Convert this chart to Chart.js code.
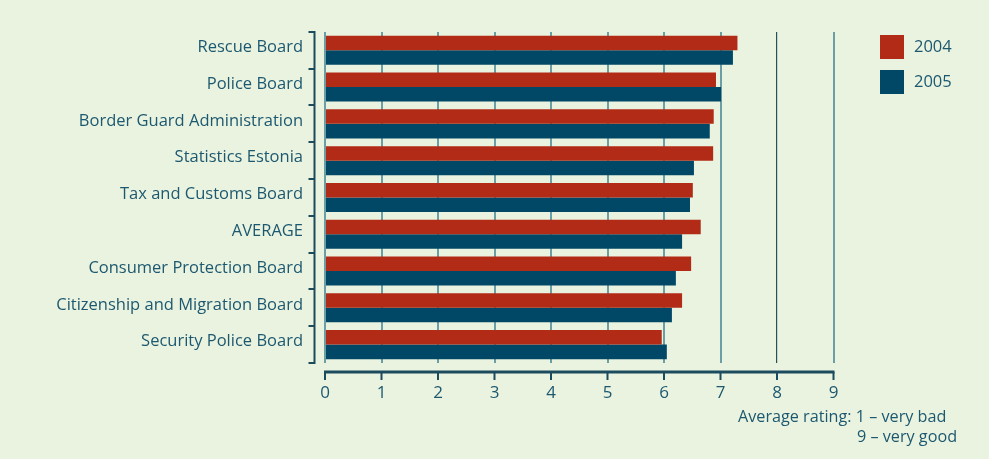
<!DOCTYPE html>
<html>
<head>
<meta charset="utf-8">
<script src="https://cdn.jsdelivr.net/npm/chart.js"></script>
<style>
  *{box-sizing:border-box;margin:0;padding:0}
  html,body{width:989px;height:459px;background:#eaf3df;overflow:hidden}
  .wrap{position:relative;width:989px;height:459px}
</style>
</head>
<body>
<div class="wrap"><canvas id="c" width="989" height="459"></canvas></div>
<script>
const CATEGORIES = [
  "Rescue Board", "Police Board", "Border Guard Administration", "Statistics Estonia",
  "Tax and Customs Board", "AVERAGE", "Consumer Protection Board",
  "Citizenship and Migration Board", "Security Police Board"
];
const VALUES_2004 = [7.30, 6.92, 6.88, 6.87, 6.51, 6.65, 6.48, 6.32, 5.96];
const VALUES_2005 = [7.22, 7.01, 6.81, 6.53, 6.46, 6.32, 6.21, 6.14, 6.05];
const X_TICKS = [0, 1, 2, 3, 4, 5, 6, 7, 8, 9];
const NOTE_LINES = ["Average rating: 1 – very bad", "9 – very good"];

const TEXT = "#1c5870";
const DARK = "#1d4b5e";
const FONT = "'Open Sans', sans-serif";

// bracket on the left, offset x axis line, legend and note
const decor = {
  id: "decor",
  afterDraw(chart) {
    const { ctx, chartArea: a, scales: { x } } = chart;
    ctx.save();
    ctx.strokeStyle = DARK;
    ctx.lineWidth = 2;
    // y bracket
    const bx = a.left - 10.5;
    ctx.beginPath();
    ctx.moveTo(bx, a.top); ctx.lineTo(bx, a.bottom);
    const step = (a.bottom - a.top) / CATEGORIES.length;
    for (let i = 0; i <= CATEGORIES.length; i++) {
      const y = Math.round(a.top + i * step);
      ctx.moveTo(bx + 1, y); ctx.lineTo(bx - 6, y);
    }
    ctx.stroke();
    // x axis line
    const ay = a.bottom + 9;
    ctx.lineWidth = 3;
    ctx.beginPath();
    ctx.moveTo(x.getPixelForValue(0) - 1, ay);
    ctx.lineTo(x.getPixelForValue(9) + 1, ay);
    ctx.stroke();
    ctx.lineWidth = 2;
    ctx.beginPath();
    X_TICKS.forEach(v => {
      const px = x.getPixelForValue(v);
      ctx.moveTo(px, ay); ctx.lineTo(px, ay + 8);
    });
    ctx.stroke();
    // legend
    ctx.font = "16.5px " + FONT;
    ctx.textBaseline = "middle";
    chart.data.datasets.forEach((ds, i) => {
      const y = 35 + i * 35;
      ctx.fillStyle = ds.backgroundColor;
      ctx.fillRect(880, y, 24, 24);
      ctx.fillStyle = TEXT;
      ctx.fillText(ds.label, 914, y + 12);
    });
    // note
    ctx.font = "16.2px " + FONT;
    ctx.fillText(NOTE_LINES[0], 738, 417);
    ctx.fillText(NOTE_LINES[1], 857, 437);
    ctx.restore();
  }
};

new Chart(document.getElementById("c"), {
  type: "bar",
  data: {
    labels: CATEGORIES,
    datasets: [
      { label: "2004", data: VALUES_2004, backgroundColor: "#b12b17" },
      { label: "2005", data: VALUES_2005, backgroundColor: "#004866" }
    ]
  },
  options: {
    indexAxis: "y",
    responsive: false,
    animation: false,
    categoryPercentage: 0.79,
    barPercentage: 1,
    layout: { padding: { top: 30, right: 155.5, left: 0, bottom: 0 } },
    plugins: { legend: { display: false }, tooltip: { enabled: false } },
    scales: {
      x: {
        min: 0, max: 9,
        afterFit: s => { s.height = 96; },
        afterBuildTicks: s => { s.ticks = X_TICKS.map(v => ({ value: v })); },
        border: { display: false },
        grid: {
          drawTicks: false,
          color: c => c.tick && c.tick.value === 8 ? "#24505f" : "#6c9ea6",
          lineWidth: c => c.tick && c.tick.value === 8 ? 1.2 : 2
        },
        ticks: { padding: 20, color: TEXT, font: { family: FONT, size: 17 } }
      },
      y: {
        afterFit: s => { s.width = 325; },
        border: { display: false },
        grid: { display: false, drawTicks: false },
        ticks: { padding: 22, labelOffset: -3, color: TEXT, font: { family: FONT, size: 16.5 } }
      }
    }
  },
  plugins: [decor]
});
</script>
</body>
</html>
